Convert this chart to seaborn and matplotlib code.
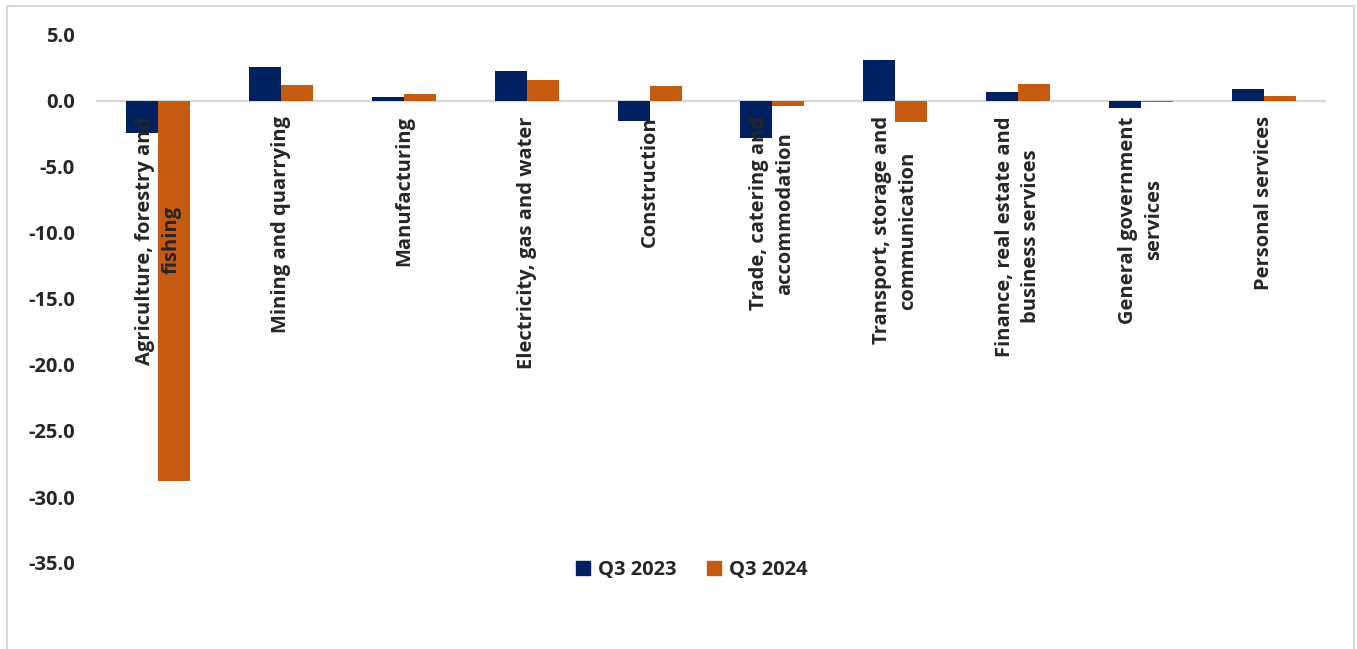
import matplotlib
matplotlib.use("Agg")
import matplotlib.pyplot as plt
import matplotlib.patches as mpatches
from matplotlib.ticker import FormatStrFormatter
import seaborn as sns
import pandas as pd

categories = [
    "Agriculture, forestry and\nfishing",
    "Mining and quarrying",
    "Manufacturing",
    "Electricity, gas and water",
    "Construction",
    "Trade, catering and\naccommodation",
    "Transport, storage and\ncommunication",
    "Finance, real estate and\nbusiness services",
    "General government\nservices",
    "Personal services",
]
q3_2023 = [-2.4, 2.6, 0.3, 2.3, -1.5, -2.8, 3.1, 0.7, -0.5, 0.9]
q3_2024 = [-28.8, 1.2, 0.5, 1.6, 1.1, -0.4, -1.6, 1.3, -0.1, 0.4]
series_names = ["Q3 2023", "Q3 2024"]
colors = ["#002060", "#C55A11"]
y_ticks = [5, 0, -5, -10, -15, -20, -25, -30, -35]

sns.set_theme(style="white")
plt.rcParams["font.family"] = ["Open Sans", "DejaVu Sans"]
plt.rcParams["axes.unicode_minus"] = False

FS = 14.5

df = pd.DataFrame({
    "Sector": categories * 2,
    "Value": q3_2023 + q3_2024,
    "Period": [series_names[0]] * len(categories) + [series_names[1]] * len(categories),
})

fig = plt.figure(figsize=(13.57, 6.49), dpi=100)
ax = fig.add_axes([97 / 1357, 1 - 563 / 649, (1325 - 97) / 1357, (563 - 35) / 649])

sns.barplot(data=df, x="Sector", y="Value", hue="Period", order=categories,
            hue_order=series_names, palette=colors, saturation=1, width=0.52,
            gap=0, ax=ax, legend=False, edgecolor="none")

ax.set_ylim(-35, 5)
ax.set_xlim(-0.5, len(categories) - 0.5)
ax.set_yticks(y_ticks)
ax.yaxis.set_major_formatter(FormatStrFormatter("%.1f"))
ax.set_xlabel("")
ax.set_ylabel("")
ax.set_axisbelow(False)

for s in ["top", "right", "left"]:
    ax.spines[s].set_visible(False)
ax.spines["bottom"].set_position(("data", 0))
ax.spines["bottom"].set_color("#D9D9D9")
ax.spines["bottom"].set_linewidth(1.6)
ax.spines["bottom"].set_zorder(0.5)

ax.tick_params(axis="y", length=0, pad=16, labelsize=FS)
ax.tick_params(axis="x", length=0, pad=11, labelsize=FS)
for lbl in ax.get_yticklabels():
    lbl.set_fontweight("bold")
ax.set_xticks(range(len(categories)))
ax.set_xticklabels(categories, rotation=90, fontweight="bold", fontsize=FS,
                   ha="center", va="top", multialignment="center",
                   linespacing=1.4)

handles = [mpatches.Patch(color=c, label=n) for c, n in zip(colors, series_names)]
fig.legend(handles=handles, loc="center", bbox_to_anchor=(692 / 1357, 1 - 570 / 649),
           ncol=2, frameon=False, handlelength=0.7, handleheight=0.7,
           handletextpad=0.4, columnspacing=1.5,
           prop={"weight": "bold", "size": FS})

border = mpatches.Rectangle((7 / 1357, -0.02), (1354 - 7) / 1357, 1.02 - 6 / 649,
                            transform=fig.transFigure, fill=False,
                            edgecolor="#D9D9D9", linewidth=1.5)
fig.patches.append(border)

fig.savefig("out.png", dpi=100, facecolor="white")
